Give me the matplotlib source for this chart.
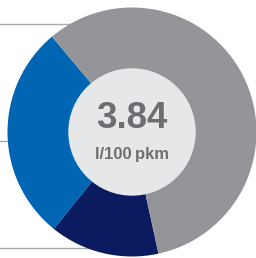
import matplotlib
matplotlib.use("Agg")
import matplotlib.pyplot as plt

# shares of the ring, counter-clockwise from the top-left
shares = [28.1, 14.2, 57.7]
colors = ["#0066b3", "#0b1b60", "#939598"]
value_text = "3.84"
unit_text = "l/100\u2009pkm"
guide_rows = [234, 117, 10]   # leader lines, y in pixels from bottom

fig = plt.figure(figsize=(2.56, 2.58), dpi=100)
ax = fig.add_axes([0, 0, 1, 1])

cx, cy, r_out, r_in = 132, 126, 124.5, 63

for y in guide_rows:
    ax.plot([0, cx], [y, y], color="#a7a9ac", lw=1.0, zorder=0)

ax.pie(shares, colors=colors, startangle=130, counterclock=True,
       center=(cx, cy), radius=r_out, frame=True,
       wedgeprops=dict(width=r_out - r_in, linewidth=0))
ax.set_xlim(0, 256)
ax.set_ylim(0, 258)
ax.set_aspect("equal")
ax.axis("off")

ax.add_patch(plt.Circle((cx, cy), r_in, color="#e6e7e8", zorder=3))

plt.rcParams['font.family'] = ['Liberation Sans', 'DejaVu Sans']
ax.text(cx, 140, value_text, ha="center", va="center", fontsize=26.5,
        fontweight="bold", color="#6d6e71", zorder=4)
ax.text(cx, 104, unit_text, ha="center", va="center", fontsize=12,
        fontweight="bold", color="#6d6e71", zorder=4)

fig.savefig("out.png", dpi=100)
